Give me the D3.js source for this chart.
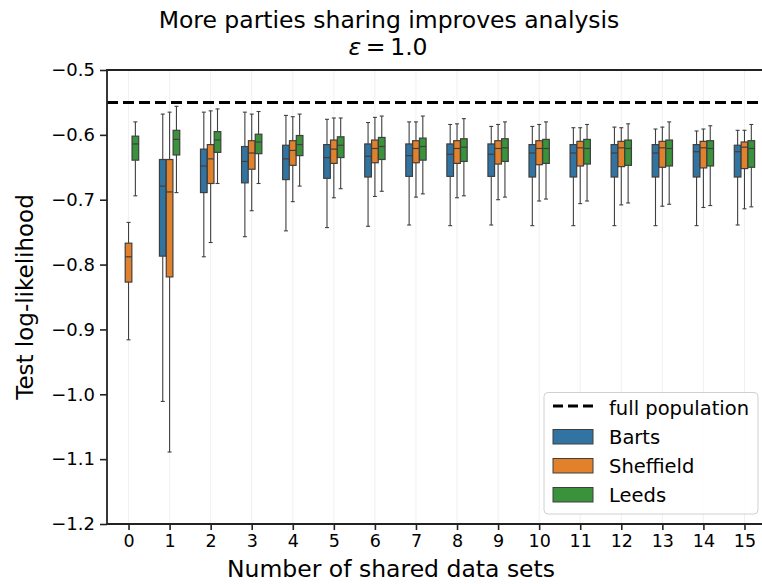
<!DOCTYPE html>
<html>
<head>
<meta charset="utf-8">
<script src="https://cdn.jsdelivr.net/npm/d3@7"></script>
<style>
html,body{margin:0;padding:0;background:#fff;}
svg{display:block;font-family:"DejaVu Sans",sans-serif;}
</style>
</head>
<body>
<svg id="chart" width="762" height="584"></svg>
<script>
const categories = d3.range(0, 16);
const seriesNames = ["Barts", "Sheffield", "Leeds"];
const seriesColors = ["#3274a1", "#e1812c", "#3a923a"];
const yTicks = [-0.5, -0.6, -0.7, -0.8, -0.9, -1.0, -1.1, -1.2];
const fullPopulation = -0.55;
// [lowerWhisker, q1, median, q3, upperWhisker]
const bartsStats = [
  null,
  [-1.011, -0.787, -0.679, -0.638, -0.568],
  [-0.788, -0.689, -0.648, -0.622, -0.565],
  [-0.757, -0.674, -0.641, -0.618, -0.565],
  [-0.748, -0.669, -0.637, -0.616, -0.570],
  [-0.743, -0.667, -0.635, -0.615, -0.576],
  [-0.741, -0.665, -0.633, -0.614, -0.581],
  [-0.739, -0.664, -0.632, -0.614, -0.580],
  [-0.740, -0.664, -0.630, -0.614, -0.584],
  [-0.739, -0.664, -0.630, -0.614, -0.587],
  [-0.740, -0.665, -0.628, -0.615, -0.587],
  [-0.740, -0.665, -0.628, -0.615, -0.589],
  [-0.740, -0.665, -0.628, -0.615, -0.588],
  [-0.740, -0.665, -0.628, -0.615, -0.591],
  [-0.740, -0.665, -0.626, -0.615, -0.594],
  [-0.739, -0.665, -0.626, -0.616, -0.593]
];
const sheffieldStats = [
  [-0.916, -0.827, -0.788, -0.767, -0.735],
  [-1.089, -0.819, -0.688, -0.638, -0.565],
  [-0.766, -0.675, -0.637, -0.615, -0.563],
  [-0.717, -0.653, -0.628, -0.609, -0.568],
  [-0.703, -0.647, -0.624, -0.609, -0.572],
  [-0.697, -0.644, -0.622, -0.608, -0.574],
  [-0.695, -0.643, -0.621, -0.608, -0.573],
  [-0.696, -0.643, -0.621, -0.609, -0.580],
  [-0.697, -0.644, -0.621, -0.609, -0.583],
  [-0.700, -0.645, -0.621, -0.609, -0.584],
  [-0.702, -0.646, -0.621, -0.609, -0.584],
  [-0.706, -0.648, -0.620, -0.610, -0.589],
  [-0.708, -0.649, -0.620, -0.610, -0.589],
  [-0.710, -0.650, -0.620, -0.610, -0.588],
  [-0.712, -0.651, -0.620, -0.610, -0.591],
  [-0.714, -0.652, -0.619, -0.611, -0.593]
];
const leedsStats = [
  [-0.694, -0.639, -0.614, -0.602, -0.580],
  [-0.689, -0.631, -0.607, -0.593, -0.556],
  [-0.675, -0.627, -0.608, -0.595, -0.560],
  [-0.675, -0.629, -0.611, -0.599, -0.564],
  [-0.679, -0.632, -0.615, -0.601, -0.568],
  [-0.683, -0.635, -0.616, -0.603, -0.574],
  [-0.687, -0.638, -0.618, -0.604, -0.571],
  [-0.691, -0.639, -0.618, -0.605, -0.571],
  [-0.694, -0.641, -0.619, -0.606, -0.575],
  [-0.696, -0.641, -0.620, -0.606, -0.580],
  [-0.699, -0.644, -0.621, -0.607, -0.580],
  [-0.702, -0.645, -0.621, -0.607, -0.584],
  [-0.705, -0.647, -0.621, -0.608, -0.583],
  [-0.707, -0.648, -0.621, -0.608, -0.580],
  [-0.709, -0.648, -0.621, -0.609, -0.586],
  [-0.711, -0.650, -0.621, -0.609, -0.584]
];
const allStats = [bartsStats, sheffieldStats, leedsStats];

(function () {
const svg = d3.select("#chart");
const pL = 107, pT = 70, pB = 524, pR = 765;
const x = d3.scaleLinear().domain([-0.5, 15.5]).range([108, 765]);
const y = d3.scaleLinear().domain([-1.2, -0.5]).range([pB, pT]);
const step = x(1) - x(0);
const hue = d3.scaleBand().domain(seriesNames).range([-0.25 * step, 0.25 * step]);
const boxW = hue.bandwidth() * 0.97;
const gray = "#3f3f3f";

// faint vertical grid
svg.append("g").selectAll("line").data(categories).join("line")
  .attr("x1", d => x(d)).attr("x2", d => x(d))
  .attr("y1", pT).attr("y2", pB)
  .attr("stroke", "#ececec").attr("stroke-width", 0.8);

// boxes
allStats.forEach((stats, si) => {
  const g = svg.append("g");
  stats.forEach((s, ci) => {
    if (!s) return;
    const cx = x(categories[ci]) + hue(seriesNames[si]) + hue.bandwidth() / 2;
    const [lw, q1, med, q3, uw] = s;
    g.append("line").attr("x1", cx).attr("x2", cx).attr("y1", y(q3)).attr("y2", y(uw))
      .attr("stroke", gray).attr("stroke-width", 1.1);
    g.append("line").attr("x1", cx).attr("x2", cx).attr("y1", y(q1)).attr("y2", y(lw))
      .attr("stroke", gray).attr("stroke-width", 1.1);
    [lw, uw].forEach(v => g.append("line")
      .attr("x1", cx - boxW * 0.3).attr("x2", cx + boxW * 0.3)
      .attr("y1", y(v)).attr("y2", y(v))
      .attr("stroke", gray).attr("stroke-width", 1.1));
    g.append("rect").attr("x", cx - boxW / 2).attr("width", boxW)
      .attr("y", y(q3)).attr("height", y(q1) - y(q3))
      .attr("fill", seriesColors[si]).attr("stroke", gray).attr("stroke-width", 1.2);
    g.append("line").attr("x1", cx - boxW / 2).attr("x2", cx + boxW / 2)
      .attr("y1", y(med)).attr("y2", y(med))
      .attr("stroke", gray).attr("stroke-width", 1.2);
  });
});

// full population line
svg.append("line").attr("x1", pL).attr("x2", pR)
  .attr("y1", y(fullPopulation)).attr("y2", y(fullPopulation))
  .attr("stroke", "#000").attr("stroke-width", 3).attr("stroke-dasharray", "11,5");

// axes
const yAxis = d3.axisLeft(y).tickValues(yTicks).tickSize(7).tickPadding(5)
  .tickFormat(d => d3.format(".1f")(d).replace("-", "\u2212"));
const yg = svg.append("g").attr("transform", `translate(${pL},0)`).call(yAxis);
yg.select(".domain").remove();
yg.selectAll(".tick line").attr("stroke", "#222").attr("stroke-width", 1.6);
yg.selectAll(".tick text").attr("font-size", 18).attr("fill", "#000")
  .attr("font-family", "DejaVu Sans");

const xAxis = d3.axisBottom(x).tickValues(categories).tickSize(6).tickPadding(5)
  .tickFormat(d3.format("d"));
const xg = svg.append("g").attr("transform", `translate(0,${pB})`).call(xAxis);
xg.select(".domain").remove();
xg.selectAll(".tick line").attr("stroke", "#222").attr("stroke-width", 1.6);
xg.selectAll(".tick text").attr("font-size", 17.5).attr("fill", "#000")
  .attr("font-family", "DejaVu Sans");

// spines
svg.append("line").attr("x1", pL).attr("x2", pL).attr("y1", pT - 0.9).attr("y2", pB + 0.9)
  .attr("stroke", "#222").attr("stroke-width", 1.8);
svg.append("line").attr("x1", pL).attr("x2", 762).attr("y1", pB).attr("y2", pB)
  .attr("stroke", "#222").attr("stroke-width", 1.8);
svg.append("line").attr("x1", pL).attr("x2", 762).attr("y1", pT).attr("y2", pT)
  .attr("stroke", "#222").attr("stroke-width", 1.8);

// title
const title = svg.append("text").attr("x", 389).attr("text-anchor", "middle")
  .attr("font-size", 23.5).attr("fill", "#000");
title.append("tspan").attr("x", 389).attr("y", 28).text("More parties sharing improves analysis");
const t2 = title.append("tspan").attr("x", 388).attr("y", 55);
t2.append("tspan").attr("font-style", "italic").text("\u03b5");
t2.append("tspan").text("\u2009=\u20091.0");

// axis labels
svg.append("text").attr("x", 391).attr("y", 577).attr("text-anchor", "middle")
  .attr("font-size", 23.5).attr("fill", "#000").text("Number of shared data sets");
svg.append("text").attr("transform", `translate(33,${(pT + pB) / 2}) rotate(-90)`)
  .attr("text-anchor", "middle").attr("font-size", 23).attr("fill", "#000")
  .text("Test log-likelihood");

// legend
const lg = svg.append("g");
lg.append("rect").attr("x", 544).attr("y", 392.5).attr("width", 214).attr("height", 121.5)
  .attr("rx", 4).attr("fill", "#fff").attr("fill-opacity", 0.85)
  .attr("stroke", "#d0d0d0").attr("stroke-width", 1);
lg.append("line").attr("x1", 553).attr("x2", 593).attr("y1", 406).attr("y2", 406)
  .attr("stroke", "#000").attr("stroke-width", 3).attr("stroke-dasharray", "10,5");
lg.append("text").attr("x", 609).attr("y", 415).attr("font-size", 19.5).attr("fill", "#000")
  .text("full population");
seriesNames.forEach((n, i) => {
  const yy = 429.5 + i * 29;
  lg.append("rect").attr("x", 553).attr("y", yy).attr("width", 40).attr("height", 14.5)
    .attr("fill", seriesColors[i]).attr("stroke", gray).attr("stroke-width", 1);
  lg.append("text").attr("x", 609).attr("y", yy + 14.5).attr("font-size", 19.5)
    .attr("fill", "#000").text(n);
});
})();
</script>
</body>
</html>
